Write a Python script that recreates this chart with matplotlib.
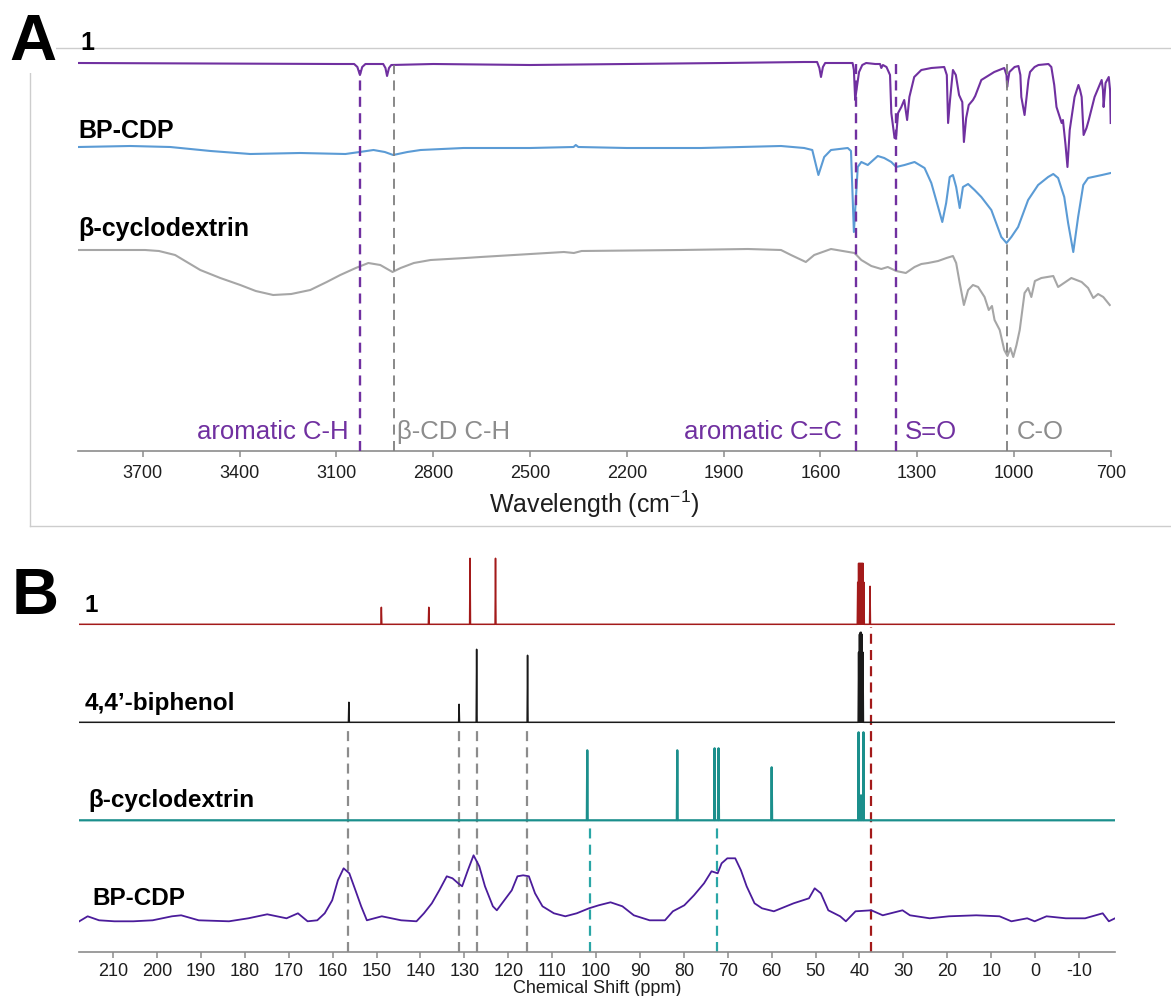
import matplotlib
matplotlib.use("Agg")
import matplotlib.pyplot as plt
from matplotlib.lines import Line2D

plt.rcParams['font.family'] = ['Liberation Sans', 'DejaVu Sans']
plt.rcParams['mathtext.fontset'] = 'custom'
plt.rcParams['mathtext.rm'] = 'Liberation Sans'
plt.rcParams['mathtext.it'] = 'Liberation Sans:italic'

# ---------------- FT-IR spectra (stacked, arbitrary units) ----------------
ir_wn_1 = [3900, 3100, 3045, 3035, 3027, 3020, 3010, 2955, 2948, 2943, 2937, 2930,
           2800, 2500, 2200, 1900, 1650, 1610, 1603, 1598, 1592, 1585, 1520, 1500,
           1496, 1492, 1488, 1480, 1470, 1458, 1430, 1415, 1411, 1406, 1395, 1384,
           1380, 1370, 1365, 1359, 1349, 1340, 1331, 1324, 1309, 1287, 1256, 1216,
           1208, 1204, 1198, 1189, 1180, 1170, 1163, 1160, 1155, 1148, 1140, 1127,
           1120, 1101, 1061, 1030, 1023, 1021, 1017, 1014, 998, 986, 980, 977, 967,
           960, 955, 950, 936, 924, 893, 884, 875, 868, 852, 848, 840, 834, 827, 812,
           800, 795, 790, 784, 775, 768, 750, 728, 724, 722, 719, 716, 706, 702, 700]
ir_1 = [388, 387, 387, 384, 376, 384, 387, 387, 383, 375, 383, 386,
        387, 386, 387, 388, 389, 389, 383, 374, 384, 388, 388, 388,
        381, 351, 361, 379, 386, 388, 387, 387, 383, 386, 384, 376,
        338, 313, 315, 338, 344, 351, 331, 354, 374, 381, 383, 384,
        376, 328, 351, 381, 376, 356, 351, 349, 309, 333, 346, 351,
        355, 371, 379, 383, 376, 364, 373, 379, 384, 385, 376, 354, 336,
        356, 371, 379, 384, 386, 387, 384, 366, 344, 328, 331, 306, 284, 321, 354,
        366, 361, 354, 316, 323, 331, 354, 371, 361, 344, 356, 368, 374, 361, 328]

ir_wn_bp = [3900, 3739, 3615, 3490, 3367, 3212, 3072, 3028, 2985, 2950, 2924, 2880,
            2839, 2706, 2500, 2365, 2358, 2350, 2200, 1970, 1722, 1650, 1625, 1606,
            1588, 1567, 1515, 1505, 1496, 1484, 1473, 1453, 1422, 1402, 1380, 1365,
            1339, 1308, 1277, 1256, 1235, 1222, 1210, 1199, 1189, 1179, 1168, 1158,
            1142, 1122, 1101, 1070, 1039, 1023, 1008, 987, 956, 925, 894, 878, 863,
            844, 832, 816, 801, 785, 770, 727, 700]
ir_bp = [304, 305, 304, 300, 297, 298, 297, 299, 301, 299, 296, 299,
         301, 303, 303, 304, 306, 304, 303, 303, 305, 303, 301, 276,
         294, 301, 303, 300, 219, 284, 289, 286, 295, 293, 289, 284,
         286, 289, 283, 268, 244, 229, 248, 274, 276, 264, 243, 264,
         267, 261, 254, 241, 214, 208, 214, 224, 251, 266, 274, 277, 273,
         254, 228, 199, 234, 266, 273, 276, 278]

ir_wn_cd = [3900, 3693, 3650, 3600, 3522, 3460, 3398, 3350, 3296, 3240, 3181, 3130,
            3088, 3040, 3001, 2964, 2926, 2901, 2860, 2808, 2700, 2653, 2395, 2364,
            2340, 2032, 1825, 1722, 1691, 1645, 1619, 1567,
            1494, 1473, 1442, 1411, 1391, 1365, 1335, 1308, 1287, 1266, 1235, 1209,
            1189, 1179, 1168, 1155, 1142, 1127, 1111, 1091, 1078, 1068, 1060, 1044,
            1030, 1020, 1011, 1002, 992, 982, 967, 956, 946, 935, 915, 878, 863, 822,
            790, 770, 754, 739, 723, 703]
ir_cd = [201, 201, 200, 196, 181, 173, 166, 160, 156, 157, 161, 169,
         176, 183, 188, 186, 179, 183, 188, 191, 193, 194, 199, 198,
         200, 201, 202, 201, 196, 189, 196, 202,
         198, 191, 185, 182, 184, 180, 178, 184, 187, 188, 190, 193,
         195, 188, 168, 146, 161, 166, 164, 154, 141, 145, 131, 121,
         101, 95, 103, 94, 106, 121, 158, 163, 154, 170, 173, 175, 164, 173,
         169, 163, 153, 157, 154, 146]

ir_ticks = [3700, 3400, 3100, 2800, 2500, 2200, 1900, 1600, 1300, 1000, 700]
ir_marks = [3027, 2923, 1491, 1365, 1022]
ir_mark_tops = [381, 386, 388, 388, 388]
ir_notes = ['aromatic C-H', 'β-CD C-H', 'aromatic C=C', 'S=O', 'C-O']

# ---------------- 13C NMR spectra ----------------
nmr1_base = 328
nmr1_ppm = [148.9, 138.1, 128.7, 122.9,
            40.4, 40.2, 40.0, 39.8, 39.6, 39.4, 39.2, 39.0, 37.6]
nmr1_int = [345, 345, 394, 394,
            370, 389, 389, 389, 389, 389, 389, 370, 366]

biph_base = 230
biph_ppm = [156.3, 131.2, 127.2, 115.6, 40.2, 40.0, 39.8, 39.6, 39.4, 39.2]
biph_int = [250, 248, 303, 297, 300, 318, 320, 320, 318, 300]

bcd_base = 132
bcd_ppm = [102.0, 81.5, 73.0, 72.1, 60.0, 40.2, 39.65, 39.1]
bcd_int = [202, 202, 204, 204, 185, 220, 157, 220]

bpcdp_ppm = [217.7, 215.8, 213.2, 209.7, 205.4, 201.0, 196.6, 194.5, 190.5, 183.6,
             179.2, 174.9, 170.5, 167.9, 165.7, 163.5, 161.8, 160.1, 158.8, 157.5,
             156.2, 154.8, 153.5, 152.2, 148.8, 144.4, 140.9, 139.2, 137.4, 135.7,
             134.0, 132.7, 131.4, 130.5, 129.2, 127.9, 126.6, 125.3, 123.5, 122.6,
             120.9, 119.2, 117.9, 116.6, 115.3, 113.9, 112.2, 109.6, 107.0, 104.4,
             101.6, 99.4, 96.7, 94.0, 91.4, 87.8, 84.3, 82.5, 79.9, 77.7, 75.4, 73.7,
             72.3, 71.4, 70.1, 68.3, 67.0, 65.7, 63.9, 62.2, 59.5, 55.0, 51.5, 50.2,
             48.8, 47.1, 44.4, 43.1, 40.9, 37.3, 34.7, 30.2, 28.5, 24.0, 19.6, 13.4,
             8.1, 5.4, 1.8, 0.1, -2.6, -7.0, -11.4, -15.4, -16.8, -18.2]
bpcdp_int = [31, 36, 32, 31, 31, 32, 36, 37, 32, 31,
             34, 38, 34, 39, 31, 32, 39, 52, 72, 84,
             79, 62, 46, 32, 36, 32, 31, 39, 49, 62,
             76, 74, 69, 66, 82, 97, 86, 66, 46, 42,
             52, 62, 76, 77, 76, 59, 46, 39, 36, 39,
             44, 47, 50, 46, 37, 32, 32, 41, 47, 57, 69, 81,
             79, 89, 94, 94, 82, 66, 49, 44, 41, 49, 54, 64,
             59, 42, 36, 31, 41, 42, 37, 42, 37, 34, 36, 37,
             36, 31, 34, 31, 36, 34, 34, 39, 31, 34]

nmr_ticks = list(range(210, -11, -10))
gray_marks = [156.4, 131.3, 127.2, 115.7]
teal_marks = [101.4, 72.4]
red_marks = [37.4]

W, H = 1171, 996
fig = plt.figure(figsize=(W / 100, H / 100), dpi=100)


def fx(px):
    return px / W


def fy(py):
    return 1 - py / H


def style_axis(ax, ticks, pad):
    for s in ['top', 'right', 'left']:
        ax.spines[s].set_visible(False)
    ax.spines['bottom'].set_color('#8C8C8C')
    ax.spines['bottom'].set_linewidth(1.2)
    ax.set_yticks([])
    ax.set_xticks(ticks)
    ax.set_xticklabels([str(t) for t in ticks])
    ax.tick_params(axis='x', direction='out', length=4, width=1.1, color='#8C8C8C',
                   labelsize=13, pad=pad, labelcolor='#1E1E1E')
    ax.patch.set_visible(False)


def stick_trace(ppm, inten, base, left, right, w=0.1):
    pts = sorted(zip(ppm, inten), reverse=True)
    xs, ys = [left], [base]
    for p, h in pts:
        xs += [p + w, p, p - w]
        ys += [base, h, base]
    xs.append(right)
    ys.append(base)
    return xs, ys


# ---------------- panel A ----------------
axA = fig.add_axes([fx(78.3), fy(451), fx(1110.7) - fx(78.3), fy(48) - fy(451)])
axA.set_xlim(3900, 700)
axA.set_ylim(0, 403)
style_axis(axA, ir_ticks, 6)
axA.set_xlabel('Wavelength (cm$^{-1}$)', fontsize=18, labelpad=5, color='#1E1E1E')

axA.plot(ir_wn_1, ir_1, color='#7030A0', lw=1.5, zorder=3)
axA.plot(ir_wn_bp, ir_bp, color='#5B9BD5', lw=1.5, zorder=3)
axA.plot(ir_wn_cd, ir_cd, color='#A6A6A6', lw=1.5, zorder=3)

mark_colors = ['#7030A0', '#7F7F7F', '#7030A0', '#7030A0', '#7F7F7F']
mark_lw = [1.7, 1.3, 1.7, 1.7, 1.3]
for m, top, c, lw in zip(ir_marks, ir_mark_tops, mark_colors, mark_lw):
    axA.plot([m, m], [0, top], color=c, lw=lw, dashes=(7.2 / lw, 4.6 / lw), zorder=4)

note_colors = ['#7030A0', '#8C8C8C', '#7030A0', '#7030A0', '#8C8C8C']
note_dx = [-7.8, 2.2, -10.0, 6.5, 7.0]
note_ha = ['right', 'left', 'right', 'left', 'left']
for m, t, c, dx, ha in zip(ir_marks, ir_notes, note_colors, note_dx, note_ha):
    axA.annotate(t, xy=(m, 19.3), xytext=(dx, 0), textcoords='offset points',
                 ha=ha, va='center', fontsize=18.5, color=c)

# frame round panel A
for xs, ys in [([30, 30], [48, 526]), ([30, 1171], [48, 48]), ([30, 1171], [526, 526])]:
    fig.add_artist(Line2D([fx(v) for v in xs], [fy(v) for v in ys],
                          transform=fig.transFigure, color='#CDCDCD', lw=1.0, zorder=1))

fig.text(fx(9), fy(60), 'A', fontsize=47, fontweight='bold', va='baseline', ha='left',
         bbox=dict(facecolor='white', edgecolor='none', pad=0), zorder=5)
fig.text(fx(80), fy(50), '1', fontsize=18, fontweight='bold', va='baseline', zorder=5)
fig.text(fx(78), fy(138), 'BP-CDP', fontsize=18, fontweight='bold', va='baseline')
fig.text(fx(78), fy(236), 'β-cyclodextrin', fontsize=18, fontweight='bold', va='baseline')

# ---------------- panel B ----------------
axB = fig.add_axes([fx(79.3), fy(952.3), fx(1115) - fx(79.3), fy(545) - fy(952.3)])
axB.set_xlim(217.7, -18.2)
axB.set_ylim(0, 407.3)
style_axis(axB, nmr_ticks, 4)
axB.set_xlabel('Chemical Shift (ppm)', fontsize=13, labelpad=0, color='#1E1E1E')

xs, ys = stick_trace(nmr1_ppm, nmr1_int, nmr1_base, 217.7, -18.2)
axB.plot(xs, ys, color='#A31A1A', lw=1.1, zorder=3)
xs, ys = stick_trace(biph_ppm, biph_int, biph_base, 217.7, -18.2)
axB.plot(xs, ys, color='#1A1A1A', lw=1.1, zorder=3)
xs, ys = stick_trace(bcd_ppm, bcd_int, bcd_base, 217.7, -18.2)
axB.plot(xs, ys, color='#1B8F8C', lw=1.6, zorder=3)
axB.plot(bpcdp_ppm, bpcdp_int, color='#4B1C9B', lw=1.3, zorder=3)

for m in gray_marks:
    axB.plot([m, m], [0, biph_base - 6], color='#8C8C8C', lw=1.6, dashes=(4.5, 2.8), zorder=2)
for m in teal_marks:
    axB.plot([m, m], [0, bcd_base - 5], color='#2AA6A6', lw=1.6, dashes=(4.5, 2.8), zorder=2)
for m in red_marks:
    axB.plot([m, m], [0, nmr1_base - 3], color='#A31A1A', lw=1.6, dashes=(4.5, 2.8), zorder=2)

fig.text(fx(12), fy(614), 'B', fontsize=47, fontweight='bold', va='baseline', ha='left')
fig.text(fx(85), fy(612), '1', fontsize=17.5, fontweight='bold', va='baseline')
fig.text(fx(85), fy(710), '4,4’-biphenol', fontsize=17.5, fontweight='bold', va='baseline')
fig.text(fx(88), fy(807), 'β-cyclodextrin', fontsize=17.5, fontweight='bold', va='baseline')
fig.text(fx(92), fy(905), 'BP-CDP', fontsize=17.5, fontweight='bold', va='baseline')

fig.savefig('out.png', dpi=100, facecolor='white')
